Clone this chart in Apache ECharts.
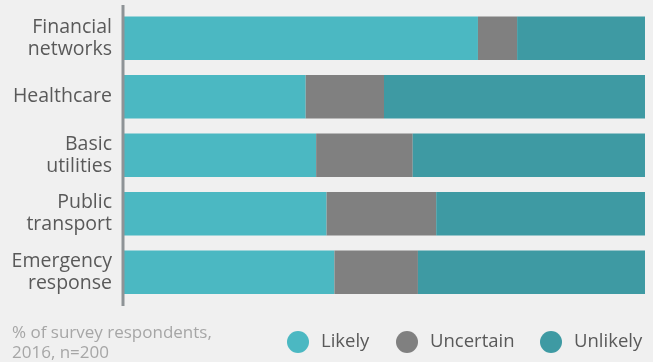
<!DOCTYPE html>
<html>
<head>
<meta charset="utf-8">
<style>
  html, body { margin: 0; padding: 0; background: #f0f0f0; }
  #chart { width: 653px; height: 362px; }
</style>
<script src="https://cdn.jsdelivr.net/npm/echarts@6/dist/echarts.min.js"></script>
</head>
<body>
<div id="chart"></div>
<script>
// Survey: how likely each sector is to be disrupted (% of respondents)
const categories = ['Financial\nnetworks', 'Healthcare', 'Basic\nutilities', 'Public\ntransport', 'Emergency\nresponse'];
const likely     = [68, 35, 37, 39, 40.5];
const uncertain  = [7.5, 15, 18.5, 21, 16];
const unlikely   = [24.5, 50, 44.5, 40, 43.5];
const seriesNames = ['Likely', 'Uncertain', 'Unlikely'];
const footnote = '% of survey respondents,\n2016, n=200';

const colors = ['#4bb8c2', '#808080', '#3e9aa3'];
const font = '"Open Sans", Lato, sans-serif';

const chart = echarts.init(document.getElementById('chart'));

function legendAt(name, left) {
  return {
    data: [name],
    left: left,
    top: 331,
    icon: 'circle',
    itemWidth: 36,
    itemHeight: 22,
    padding: 0,
    selectedMode: false,
    textStyle: { fontFamily: font, fontSize: 18.5, color: '#595959' }
  };
}

chart.setOption({
  backgroundColor: '#f0f0f0',
  animation: false,
  color: colors,
  grid: { left: 123, right: 8, top: 9, bottom: 60.5 },
  xAxis: {
    type: 'value', min: 0, max: 100,
    show: false
  },
  yAxis: {
    type: 'category',
    data: categories,
    inverse: true,
    axisLine: { show: false },
    axisTick: { show: false },
    axisLabel: {
      margin: 11,
      fontFamily: font, fontSize: 19.5, color: '#595959',
      lineHeight: 22, align: 'right',
      padding: [3, 0, 0, 0]
    }
  },
  legend: [
    legendAt(seriesNames[0], 287),
    legendAt(seriesNames[1], 396),
    legendAt(seriesNames[2], 540)
  ],
  graphic: [
    {
      type: 'line',
      shape: { x1: 123, y1: 5, x2: 123, y2: 306 },
      style: { stroke: '#8e9396', lineWidth: 3 },
      z: 10
    },
    {
      type: 'text',
      left: 12, top: 323,
      style: {
        text: footnote,
        fontFamily: font, fontSize: 17, lineHeight: 20,
        fill: '#a6a6a6'
      }
    }
  ],
  series: [likely, uncertain, unlikely].map((vals, i) => ({
    name: seriesNames[i],
    type: 'bar',
    stack: 'total',
    data: vals,
    barCategoryGap: '26%',
    itemStyle: { color: colors[i] }
  }))
});
</script>
</body>
</html>
